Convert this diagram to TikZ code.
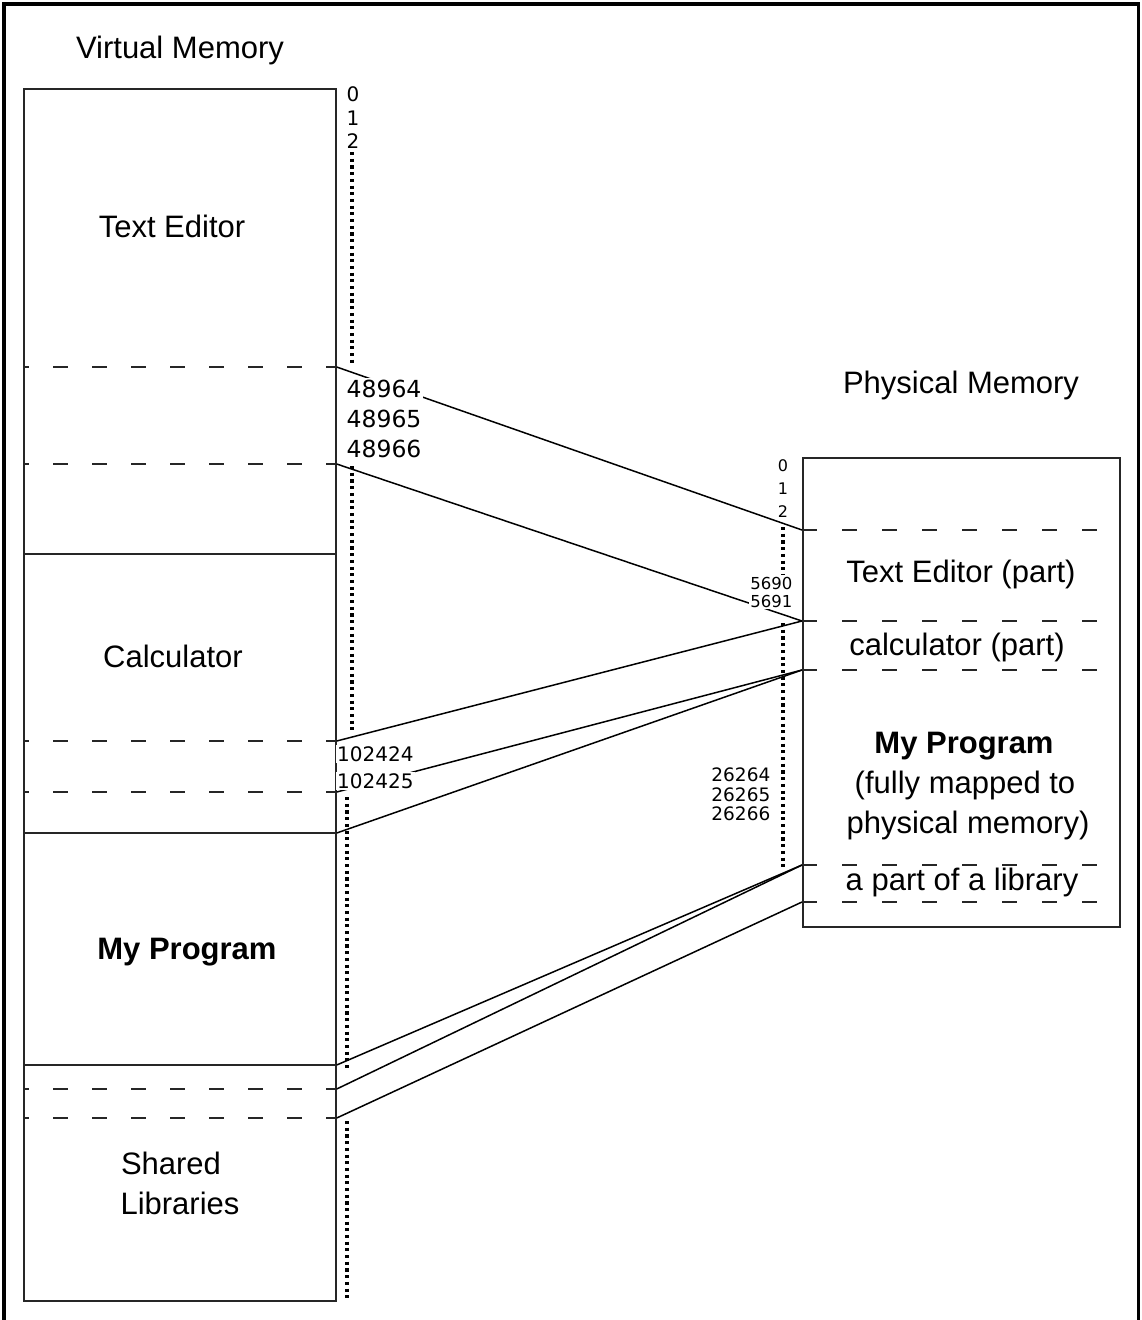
\documentclass[tikz,border=0pt]{standalone}
\usepackage{fontspec}
\setmainfont{Liberation Sans}
\newfontfamily\digits{DejaVu Sans}
\begin{document}
\begin{tikzpicture}[x=1pt,y=-1pt,
  frame/.style={line width=3.2pt,draw=black},
  membox/.style={draw=black!85,line width=1.7pt,inner sep=0pt,anchor=north west},
  solidsep/.style={draw=black!85,line width=1.7pt},
  vdash/.style={draw=black!85,line width=1.7pt,dash pattern=on 15pt off 24pt,dash phase=9pt},
  pdash/.style={draw=black!85,line width=1.7pt,dash pattern=on 15pt off 25pt},
  addrdots/.style={draw=black,line width=3.1pt,dash pattern=on 3.1pt off 3.6pt},
  mapline/.style={draw=black,line width=1.5pt},
  label/.style={font=\fontsize{31}{38}\selectfont,inner sep=0pt,anchor=base},
  boldlabel/.style={label,font=\fontsize{31}{38}\selectfont\bfseries},
  addr/.style={inner sep=1.5pt,fill=white,text=black},
]
\useasboundingbox (0,0) rectangle (1141,1320);

% page frame (open at the bottom)
\draw[frame] (4,1320) -- (4,4) -- (1138.5,4) -- (1138.5,1320);

% ---------- virtual memory ----------
\node[label] (tvm) at (180,58) {Virtual Memory};
\node[membox,minimum width=312pt,minimum height=1212pt] (vbox) at (23,88) {};

\draw[vdash]    (vbox.west |- 0,367)  -- (vbox.east |- 0,367);
\draw[vdash]    (vbox.west |- 0,464)  -- (vbox.east |- 0,464);
\draw[solidsep] (vbox.west |- 0,554)  -- (vbox.east |- 0,554);
\draw[vdash]    (vbox.west |- 0,741)  -- (vbox.east |- 0,741);
\draw[vdash]    (vbox.west |- 0,792)  -- (vbox.east |- 0,792);
\draw[solidsep] (vbox.west |- 0,833)  -- (vbox.east |- 0,833);
\draw[solidsep] (vbox.west |- 0,1065) -- (vbox.east |- 0,1065);
\draw[vdash]    (vbox.west |- 0,1089) -- (vbox.east |- 0,1089);
\draw[vdash]    (vbox.west |- 0,1118) -- (vbox.east |- 0,1118);

\node[label] (vte)   at (172,237) {Text Editor};
\node[label] (vcalc) at (173,667) {Calculator};
\node[boldlabel] (vprog) at (187,959) {My Program};
\node[label] (vsh1)  at (171,1174) {Shared};
\node[label] (vsh2)  at (180,1214) {Libraries};

% virtual address column
\draw[addrdots] (352,152) -- (352,364);
\draw[addrdots] (352,466) -- (352,733);
\draw[addrdots] (347,797) -- (347,1070);
\draw[addrdots] (347,1121) -- (347,1298);

% ---------- physical memory ----------
\node[label] (tpm) at (961,393) {Physical Memory};
\node[membox,minimum width=317pt,minimum height=469pt] (pbox) at (802,457) {};

\draw[pdash] (pbox.west |- 0,530) -- (1100,530);
\draw[pdash] (pbox.west |- 0,621) -- (1100,621);
\draw[pdash] (pbox.west |- 0,670) -- (1100,670);
\draw[pdash] (pbox.west |- 0,865) -- (1100,865);
\draw[pdash] (pbox.west |- 0,902) -- (1100,902);

\node[label] (pte)   at (961,582) {Text Editor (part)};
\node[label] (pcalc) at (957,655) {calculator (part)};
\node[boldlabel] (pprog) at (964,753) {My Program};
\node[label] (pprog2) at (965,793) {(fully mapped to};
\node[label] (pprog3) at (968,833) {physical memory)};
\node[label] (plib)  at (962,890) {a part of a library};

% physical address column
\draw[addrdots] (783,527) -- (783,575);
\draw[addrdots] (783,623) -- (783,870);

% ---------- mapping lines ----------
\coordinate (va) at (vbox.east |- 0,367);
\coordinate (vb) at (vbox.east |- 0,464);
\coordinate (vc) at (vbox.east |- 0,741);
\coordinate (vd) at (vbox.east |- 0,792);
\coordinate (ve) at (vbox.east |- 0,833);
\coordinate (vf) at (vbox.east |- 0,1065);
\coordinate (vg) at (vbox.east |- 0,1089);
\coordinate (vh) at (vbox.east |- 0,1118);
\coordinate (pa) at (pbox.west |- 0,530);
\coordinate (pb) at (pbox.west |- 0,621);
\coordinate (pc) at (pbox.west |- 0,670);
\coordinate (pd) at (pbox.west |- 0,865);
\coordinate (pe) at (pbox.west |- 0,902);

\draw[mapline] (va) -- (pa);
\draw[mapline] (vb) -- (pb);
\draw[mapline] (vc) -- (pb);
\draw[mapline] (vd) -- (pc);
\draw[mapline] (ve) -- (pc);
\draw[mapline] (vf) -- (pd);
\draw[mapline] (vg) -- (pd);
\draw[mapline] (vh) -- (pe);

% ---------- address numbers ----------
\begin{scope}[every node/.append style={addr}]
  \node[font=\digits\fontsize{20}{20}\selectfont,anchor=base] (z0) at (353,101) {0};
  \node[font=\digits\fontsize{20}{20}\selectfont,anchor=base] (z1) at (353,125) {1};
  \node[font=\digits\fontsize{20}{20}\selectfont,anchor=base] (z2) at (353,148) {2};

  \node[font=\digits\fontsize{23.5}{23.5}\selectfont,anchor=base west] (a1) at (345,397) {48964};
  \node[font=\digits\fontsize{23.5}{23.5}\selectfont,anchor=base west] (a2) at (345,427) {48965};
  \node[font=\digits\fontsize{23.5}{23.5}\selectfont,anchor=base west] (a3) at (345,457) {48966};

  \node[font=\digits\fontsize{20}{20}\selectfont,anchor=base west] (c1) at (335.5,761) {102424};
  \node[font=\digits\fontsize{20}{20}\selectfont,anchor=base west] (c2) at (335.5,788) {102425};

  \node[font=\digits\fontsize{16}{16}\selectfont,anchor=base] (q0) at (783,471) {0};
  \node[font=\digits\fontsize{16}{16}\selectfont,anchor=base] (q1) at (783,494) {1};
  \node[font=\digits\fontsize{16}{16}\selectfont,anchor=base] (q2) at (783,517) {2};

  \node[font=\digits\fontsize{16.5}{16.5}\selectfont,anchor=base east] (b1) at (794,589) {5690};
  \node[font=\digits\fontsize{16.5}{16.5}\selectfont,anchor=base east] (b2) at (794,607) {5691};

  \node[font=\digits\fontsize{18.5}{18.5}\selectfont,anchor=base east] (d1) at (772,781) {26264};
  \node[font=\digits\fontsize{18.5}{18.5}\selectfont,anchor=base east] (d2) at (772,801) {26265};
  \node[font=\digits\fontsize{18.5}{18.5}\selectfont,anchor=base east] (d3) at (772,820) {26266};
\end{scope}
\end{tikzpicture}
\end{document}
